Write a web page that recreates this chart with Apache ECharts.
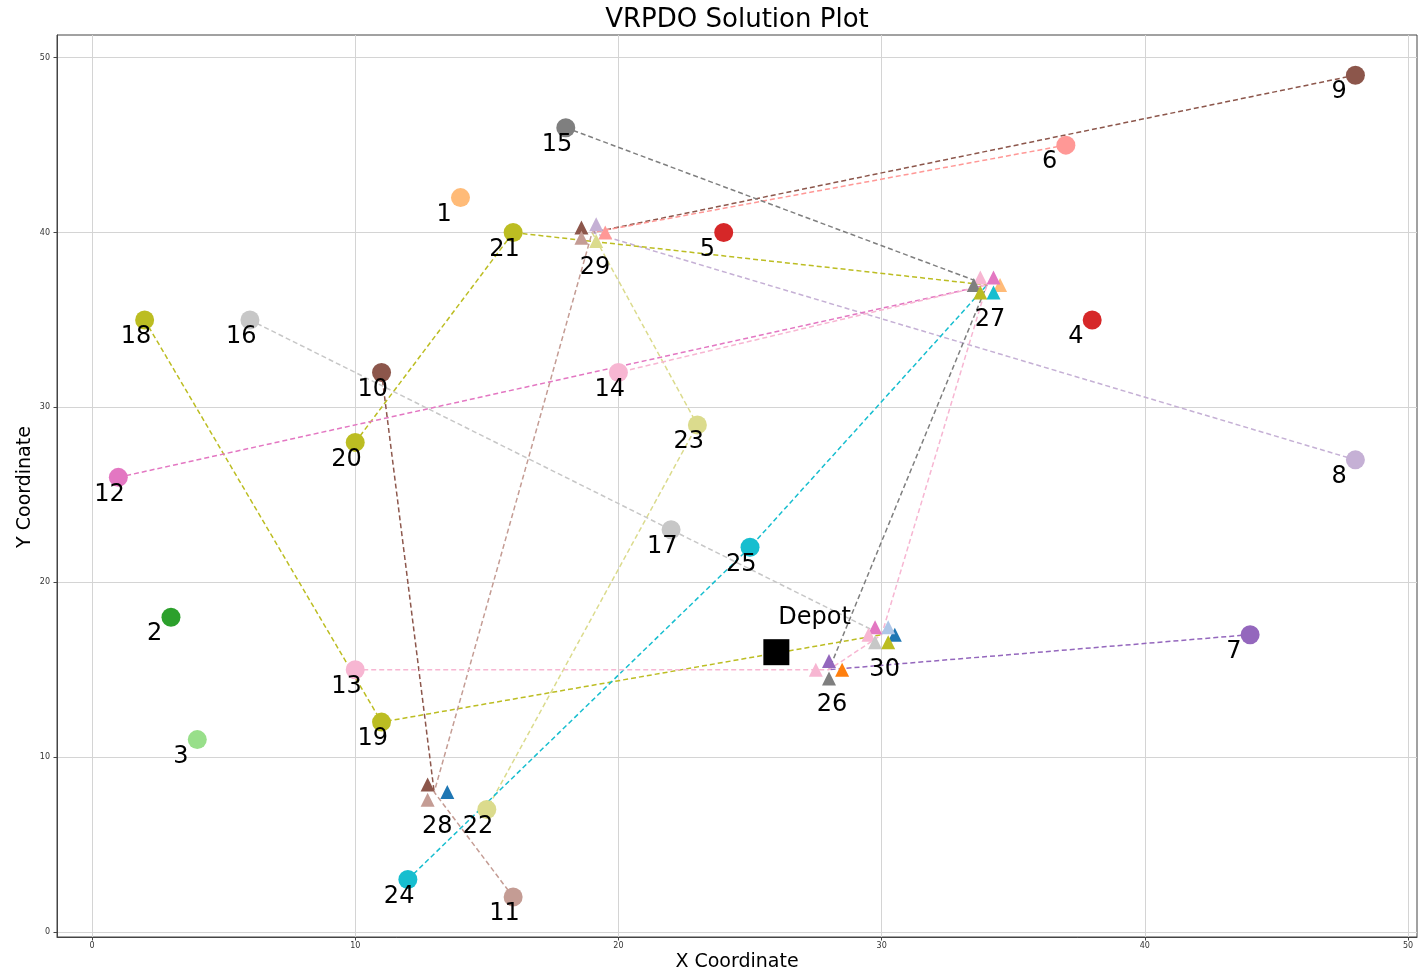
<!DOCTYPE html>
<html>
<head>
<meta charset="utf-8">
<title>VRPDO Solution Plot</title>
<script src="https://cdn.jsdelivr.net/npm/echarts@6/dist/echarts.min.js"></script>
<style>
  html, body { margin: 0; padding: 0; background: #ffffff; }
  #chart { width: 1428px; height: 976px; }
</style>
</head>
<body>
<div id="chart"></div>
<script>
// Customers (id, coordinates, colour)
const customerIds = [1, 2, 3, 4, 5, 6, 7, 8, 9, 10, 11, 12, 13, 14, 15, 16, 17, 18, 19, 20, 21, 22, 23, 24, 25];
const customerX   = [14, 3, 4, 38, 24, 37, 44, 48, 48, 11, 16, 1, 10, 20, 18, 6, 22, 2, 11, 10, 16, 15, 23, 12, 25];
const customerY   = [42, 18, 11, 35, 40, 45, 17, 27, 49, 32, 2, 26, 15, 32, 46, 35, 23, 35, 12, 28, 40, 7, 29, 3, 22];
const customerColors = [
  '#ffbb78', '#2ca02c', '#98df8a', '#d62728', '#d62728', '#ff9896', '#9467bd', '#c5b0d5',
  '#8c564b', '#8c564b', '#c49c94', '#e377c2', '#f7b6d2', '#f7b6d2', '#7f7f7f', '#c7c7c7',
  '#c7c7c7', '#bcbd22', '#bcbd22', '#bcbd22', '#bcbd22', '#dbdb8d', '#dbdb8d', '#17becf', '#17becf'
];

// Parcel lockers and the colours of the visits made to each one
const lockerIds = [26, 27, 28, 29, 30];
const lockerX   = [28, 34, 13, 19, 30];
const lockerY   = [15, 37, 8, 40, 17];
const lockerVisitColors = [
  ['#ff7f0e', '#9467bd', '#f7b6d2', '#7f7f7f'],
  ['#ffbb78', '#e377c2', '#f7b6d2', '#7f7f7f', '#bcbd22', '#17becf'],
  ['#1f77b4', '#8c564b', '#c49c94'],
  ['#ff9896', '#c5b0d5', '#8c564b', '#c49c94', '#dbdb8d'],
  ['#1f77b4', '#aec7e8', '#e377c2', '#f7b6d2', '#c7c7c7', '#bcbd22']
];
const visitRadius = 0.5;

// Depot
const depotX = 26;
const depotY = 16;

// Routes: C = customer, L = locker
const routeColors = [
  '#8c564b', '#8c564b', '#ff9896', '#c5b0d5', '#7f7f7f', '#bcbd22', '#bcbd22',
  '#dbdb8d', '#17becf', '#c49c94', '#e377c2', '#f7b6d2', '#9467bd', '#c7c7c7'
];
const routeStops = [
  ['C9', 'L29'],
  ['C10', 'L28'],
  ['C6', 'L29'],
  ['C8', 'L29'],
  ['C15', 'L27', 'L26'],
  ['C18', 'C19', 'L30'],
  ['C20', 'C21', 'L27'],
  ['L29', 'C23', 'C22'],
  ['C24', 'C25', 'L27'],
  ['C11', 'L28', 'L29'],
  ['C12', 'L27'],
  ['C13', 'L26', 'L30', 'L27', 'C14'],
  ['C7', 'L26'],
  ['C16', 'C17', 'L30']
];

const xTicks = [0, 10, 20, 30, 40, 50];
const yTicks = [0, 10, 20, 30, 40, 50];

const FONT = 'DejaVu Sans';
const GRID = { left: 57, right: 11, top: 35, bottom: 39 };
const plotCenterX = GRID.left + (1428 - GRID.left - GRID.right) / 2;

function stopCoord(code) {
  const kind = code[0];
  const id = Number(code.slice(1));
  if (kind === 'C') {
    const i = customerIds.indexOf(id);
    return [customerX[i], customerY[i]];
  }
  if (kind === 'L') {
    const i = lockerIds.indexOf(id);
    return [lockerX[i], lockerY[i]];
  }
  return [depotX, depotY];
}

const series = [];

// dashed route lines
routeStops.forEach((stops, r) => {
  series.push({
    type: 'line',
    data: stops.map(stopCoord),
    symbol: 'none',
    silent: true,
    z: 1,
    lineStyle: { color: routeColors[r], width: 1.5, type: [5, 3] }
  });
});

// customer points
series.push({
  type: 'scatter',
  symbol: 'circle',
  symbolSize: 19,
  z: 3,
  itemStyle: { opacity: 1 },
  data: customerIds.map((id, i) => ({
    value: [customerX[i], customerY[i]],
    name: String(id),
    itemStyle: { color: customerColors[i], opacity: 1 }
  })),
  label: {
    show: true,
    position: 'inside',
    formatter: p => p.name,
    align: 'left',
    verticalAlign: 'middle',
    offset: [-24, 17],
    color: '#000',
    fontFamily: FONT,
    fontSize: 24
  }
});

// locker visit triangles, spread on a small circle around each locker
const triangleData = [];
lockerIds.forEach((id, li) => {
  const cols = lockerVisitColors[li];
  cols.forEach((c, k) => {
    const a = 2 * Math.PI * k / cols.length;
    triangleData.push({
      value: [lockerX[li] + visitRadius * Math.cos(a), lockerY[li] + visitRadius * Math.sin(a)],
      itemStyle: { color: c, opacity: 1 }
    });
  });
});
series.push({
  type: 'scatter',
  symbol: 'triangle',
  symbolSize: 14,
  z: 4,
  itemStyle: { opacity: 1 },
  data: triangleData
});

// locker labels
series.push({
  type: 'scatter',
  symbolSize: 0,
  z: 5,
  itemStyle: { opacity: 1 },
  data: lockerIds.map((id, i) => ({ value: [lockerX[i], lockerY[i]], name: String(id) })),
  label: {
    show: true,
    position: 'inside',
    formatter: p => p.name,
    align: 'center',
    verticalAlign: 'middle',
    offset: [3, 35],
    color: '#000',
    fontFamily: FONT,
    fontSize: 24
  }
});

// depot
series.push({
  type: 'scatter',
  symbol: 'rect',
  symbolSize: 26,
  z: 5,
  data: [{ value: [depotX, depotY], name: 'Depot' }],
  itemStyle: { color: '#000', opacity: 1 },
  label: {
    show: true,
    position: 'inside',
    formatter: 'Depot',
    align: 'left',
    verticalAlign: 'middle',
    offset: [2, -34],
    color: '#000',
    fontFamily: FONT,
    fontSize: 24
  }
});

const axisCommon = {
  type: 'value',
  axisLine: { show: true, onZero: false, lineStyle: { color: '#444', width: 1 } },
  axisTick: { show: true, length: 3.5, lineStyle: { color: '#444' } },
  splitLine: { show: true, lineStyle: { color: '#d4d4d4', width: 1 } },
  axisLabel: { fontFamily: FONT, fontSize: 8, color: '#333' }
};

const chart = echarts.init(document.getElementById('chart'), null, { renderer: 'canvas' });
chart.setOption({
  animation: false,
  backgroundColor: '#ffffff',
  grid: Object.assign({}, GRID, {
    show: true, borderColor: '#444', borderWidth: 1, backgroundColor: 'transparent'
  }),
  xAxis: Object.assign({}, axisCommon, {
    min: -1.33, max: 50.34,
    axisTick: Object.assign({}, axisCommon.axisTick, { customValues: xTicks }),
    axisLabel: Object.assign({}, axisCommon.axisLabel, { customValues: xTicks, margin: 5 })
  }),
  yAxis: Object.assign({}, axisCommon, {
    min: -0.29, max: 51.3,
    axisTick: Object.assign({}, axisCommon.axisTick, { customValues: yTicks }),
    axisLabel: Object.assign({}, axisCommon.axisLabel, { customValues: yTicks, margin: 7 })
  }),
  graphic: [
    {
      type: 'text', x: plotCenterX, y: 20,
      style: { text: 'VRPDO Solution Plot', fontFamily: FONT, fontSize: 26, fill: '#000', align: 'center', verticalAlign: 'middle' }
    },
    {
      type: 'text', x: plotCenterX, y: 962,
      style: { text: 'X Coordinate', fontFamily: FONT, fontSize: 19, fill: '#000', align: 'center', verticalAlign: 'middle' }
    },
    {
      type: 'text', x: 25, y: 487, rotation: Math.PI / 2,
      style: { text: 'Y Coordinate', fontFamily: FONT, fontSize: 19, fill: '#000', align: 'center', verticalAlign: 'middle' }
    }
  ],
  series: series
});
</script>
</body>
</html>
